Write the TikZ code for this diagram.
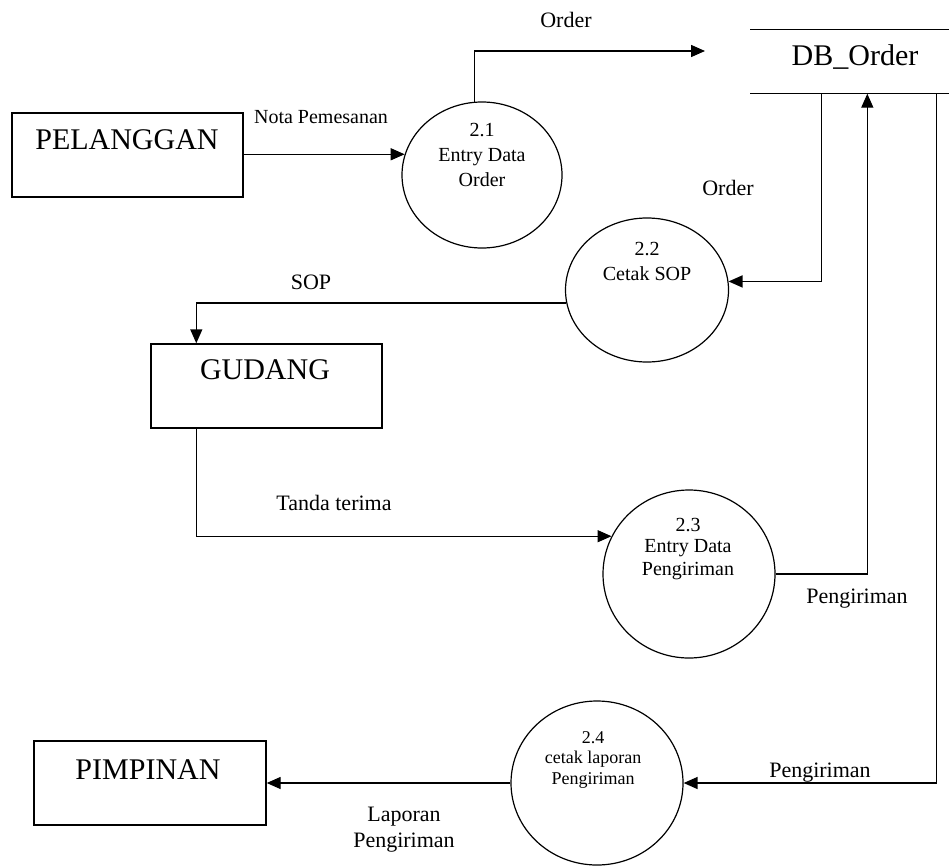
\documentclass[tikz,border=0pt]{standalone}
\usepackage{fontspec}
\setmainfont{Liberation Serif}
\usetikzlibrary{arrows.meta,shapes.geometric}
\begin{document}
\begin{tikzpicture}[x=1pt,y=-1pt,
 line width=1.4pt,
 arr/.style={-{Triangle[length=14pt,width=12pt]}},
 ent/.style={draw, rectangle, inner sep=0, line width=1.4pt},
 proc/.style={draw, ellipse, inner sep=0, line width=1.2pt},
 big/.style={font=\fontsize{30}{32}\selectfont, inner sep=0},
 lbl/.style={font=\fontsize{22}{24}\selectfont, inner sep=0},
 ptxt/.style={font=\fontsize{20}{22}\selectfont, inner sep=0},
 stxt/.style={font=\fontsize{18}{20}\selectfont, inner sep=0},
]
\useasboundingbox (0,0) rectangle (949,867);

% external entities
\node[ent, minimum width=231pt, minimum height=84pt] (pel) at (127.5,155) {};
\node[big] (pelt) at (127,140) {PELANGGAN};
\node[ent, minimum width=231pt, minimum height=84pt] (gud) at (266.5,386) {};
\node[big] (gudt) at (265,370) {GUDANG};
\node[ent, minimum width=232pt, minimum height=84pt] (pim) at (150,783) {};
\node[big] (pimt) at (148,770) {PIMPINAN};

% data store
\node[minimum width=198pt, minimum height=63pt, inner sep=0] (db) at (850,61.5) {};
\draw (db.north west) -- (db.north east);
\draw (db.south west) -- (db.south east);
\node[big] (dbt) at (855,57) {DB\_Order};

% processes
\node[proc, minimum width=160pt, minimum height=146pt] (c21) at (482,175) {};
\node[ptxt] (c21a) at (482,130) {2.1};
\node[ptxt] (c21b) at (482,157) {Entry Data};
\node[ptxt] (c21c) at (482,180) {Order};

\node[proc, minimum width=163pt, minimum height=144pt] (c22) at (647,290) {};
\node[ptxt] (c22a) at (647,249) {2.2};
\node[ptxt] (c22b) at (647,274) {Cetak SOP};

\node[proc, minimum width=172pt, minimum height=168pt] (c23) at (689,574) {};
\node[ptxt] (c23a) at (688,525) {2.3};
\node[ptxt] (c23b) at (688,548) {Entry Data};
\node[ptxt] (c23c) at (688,571) {Pengiriman};

\node[proc, minimum width=172pt, minimum height=164pt] (c24) at (597,783) {};
\node[stxt] (c24a) at (593,738) {2.4};
\node[stxt] (c24b) at (593,759) {cetak laporan};
\node[stxt] (c24c) at (593,780) {Pengiriman};

% flows
\coordinate (ordin) at (705,51);
\draw[arr] (pel.east |- c21.165) -- (c21.165);
\draw[arr] (c21.96) |- (ordin);
\draw[arr] ([xshift=71pt]db.south west) |- (c22.6);
\draw[arr] (c23.east) -| ([xshift=117pt]db.south west);
\draw[arr] ([xshift=186pt]db.south west) |- (c24.east);
\draw[arr] (c22.189) -| ([xshift=46pt]gud.north west);
\draw[arr] ([xshift=46pt]gud.south west) |- (c23.154);
\draw[arr] (c24.west) -- (pim.east);

% flow labels
\node[font=\fontsize{20}{22}\selectfont, inner sep=0] (l1) at (321,117) {Nota Pemesanan};
\node[lbl] (l2) at (566,20) {Order};
\node[lbl] (l3) at (728,188) {Order};
\node[lbl] (l4) at (311,282) {SOP};
\node[lbl] (l5) at (334,503) {Tanda terima};
\node[lbl] (l6) at (857,599) {Pengiriman};
\node[lbl] (l7) at (820,773) {Pengiriman};
\node[lbl] (l8) at (404,817) {Laporan};
\node[lbl] (l9) at (404,843) {Pengiriman};
\end{tikzpicture}
\end{document}
